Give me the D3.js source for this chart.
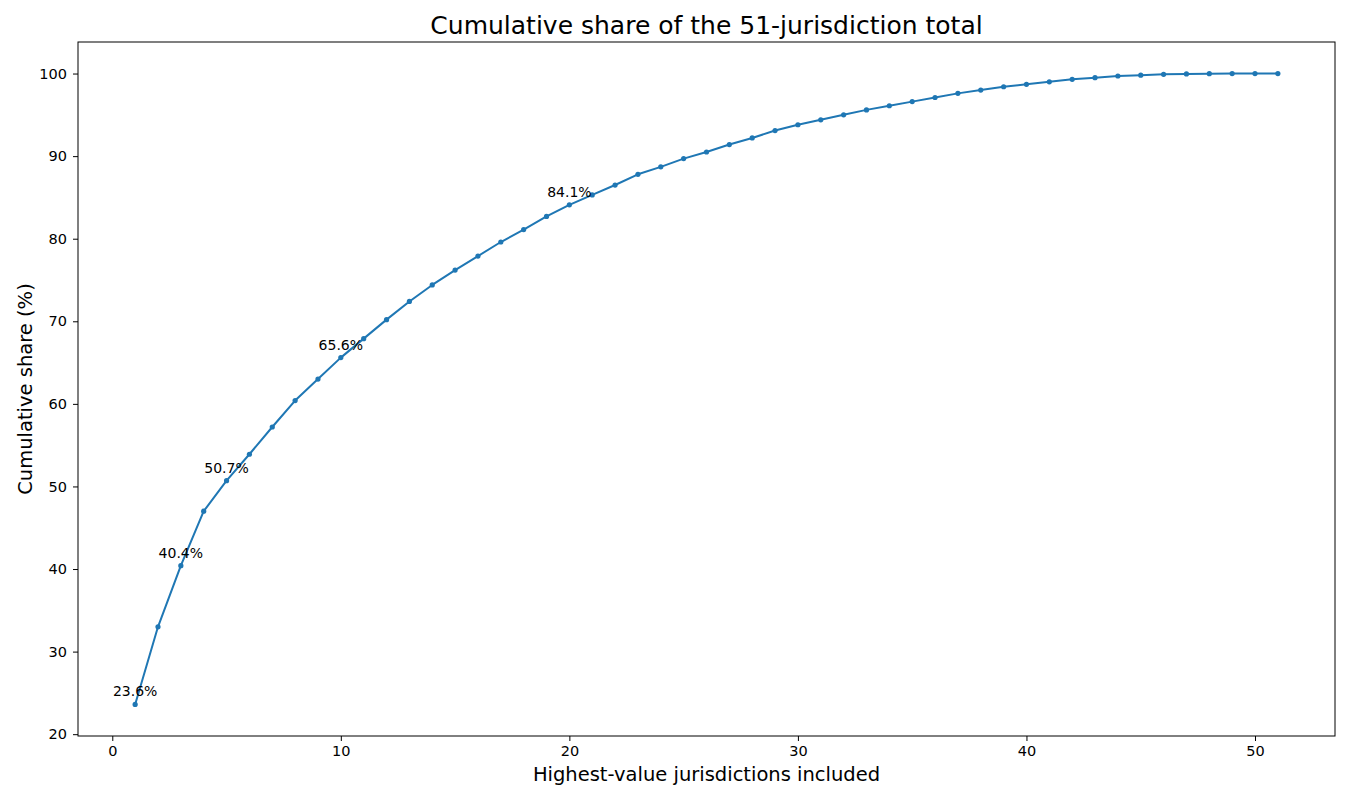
<!DOCTYPE html>
<html>
<head>
<meta charset="utf-8">
<script src="https://cdn.jsdelivr.net/npm/d3@7"></script>
<style>
  body { margin: 0; background: #fff; }
  svg text { font-family: "DejaVu Sans", sans-serif; fill: #000; }
</style>
</head>
<body>
<div id="chart"></div>
<script>
// Number of highest-value jurisdictions included (1..51)
var counts = d3.range(1, 52);

// Cumulative share (%)
var shares = [
  23.6, 33.0, 40.4, 47.0, 50.7, 53.9, 57.2, 60.4, 63.0, 65.6,
  67.9, 70.2, 72.4, 74.4, 76.2, 77.9, 79.6, 81.1, 82.7, 84.1,
  85.3, 86.5, 87.8, 88.7, 89.7, 90.5, 91.4, 92.2, 93.1, 93.8,
  94.4, 95.0, 95.6, 96.1, 96.6, 97.1, 97.6, 98.0, 98.4, 98.7,
  99.0, 99.3, 99.5, 99.7, 99.8, 99.9, 99.95, 99.98, 100, 100, 100
];

// Points that carry a text label
var labelled = [1, 3, 5, 10, 20];

var xTicks = [0, 10, 20, 30, 40, 50];
var yTicks = [20, 30, 40, 50, 60, 70, 80, 90, 100];

var W = 1350, H = 800;
var plotL = 78, plotT = 42, plotR = 1335, plotB = 736;

var svg = d3.select("#chart").append("svg")
  .attr("width", W)
  .attr("height", H);

var data = counts.map(function (c, i) { return { n: c, v: shares[i] }; });

// matplotlib-like 5% padding on both axes
var xPad = (d3.max(counts) - d3.min(counts)) * 0.05;
var yPad = (d3.max(shares) - d3.min(shares)) * 0.05;

var x = d3.scaleLinear()
  .domain([d3.min(counts) - xPad, d3.max(counts) + xPad])
  .range([plotL, plotR]);
var y = d3.scaleLinear()
  .domain([d3.min(shares) - yPad, d3.max(shares) + yPad])
  .range([plotB, plotT]);

// axes
var xAxis = svg.append("g")
  .attr("transform", "translate(0," + plotB + ")")
  .call(d3.axisBottom(x).tickValues(xTicks).tickSize(5).tickPadding(5).tickFormat(d3.format("d")));
var yAxis = svg.append("g")
  .attr("transform", "translate(" + plotL + ",0)")
  .call(d3.axisLeft(y).tickValues(yTicks).tickSize(5).tickPadding(6).tickFormat(d3.format("d")));

[xAxis, yAxis].forEach(function (g) {
  g.attr("font-size", null).attr("font-family", null);
  g.select(".domain").remove();
  g.selectAll(".tick line").attr("stroke", "#000").attr("stroke-width", 1);
  g.selectAll(".tick text")
    .style("font-size", "14.5px")
    .attr("fill", "#000");
});

// frame
svg.append("rect")
  .attr("x", plotL).attr("y", plotT)
  .attr("width", plotR - plotL).attr("height", plotB - plotT)
  .attr("fill", "none")
  .attr("stroke", "#000")
  .attr("stroke-width", 1);

// line + markers
var line = d3.line()
  .x(function (d) { return x(d.n); })
  .y(function (d) { return y(d.v); });

svg.append("path")
  .datum(data)
  .attr("d", line)
  .attr("fill", "none")
  .attr("stroke", "#1f77b4")
  .attr("stroke-width", 2)
  .attr("stroke-linejoin", "round");

svg.selectAll("circle.pt")
  .data(data)
  .enter()
  .append("circle")
  .attr("class", "pt")
  .attr("cx", function (d) { return x(d.n); })
  .attr("cy", function (d) { return y(d.v); })
  .attr("r", 2.6)
  .attr("fill", "#1f77b4");

// value labels
svg.selectAll("text.lbl")
  .data(data.filter(function (d) { return labelled.indexOf(d.n) !== -1; }))
  .enter()
  .append("text")
  .attr("class", "lbl")
  .attr("x", function (d) { return x(d.n); })
  .attr("y", function (d) { return y(d.v) - 8; })
  .attr("text-anchor", "middle")
  .style("font-size", "14px")
  .text(function (d) { return d.v.toFixed(1) + "%"; });

// title and axis labels
svg.append("text")
  .attr("x", (plotL + plotR) / 2)
  .attr("y", 34)
  .attr("text-anchor", "middle")
  .style("font-size", "25px")
  .text("Cumulative share of the 51-jurisdiction total");

svg.append("text")
  .attr("x", (plotL + plotR) / 2)
  .attr("y", 781)
  .attr("text-anchor", "middle")
  .style("font-size", "19.5px")
  .text("Highest-value jurisdictions included");

svg.append("text")
  .attr("transform", "translate(32," + ((plotT + plotB) / 2) + ") rotate(-90)")
  .attr("text-anchor", "middle")
  .style("font-size", "19.5px")
  .text("Cumulative share (%)");
</script>
</body>
</html>
